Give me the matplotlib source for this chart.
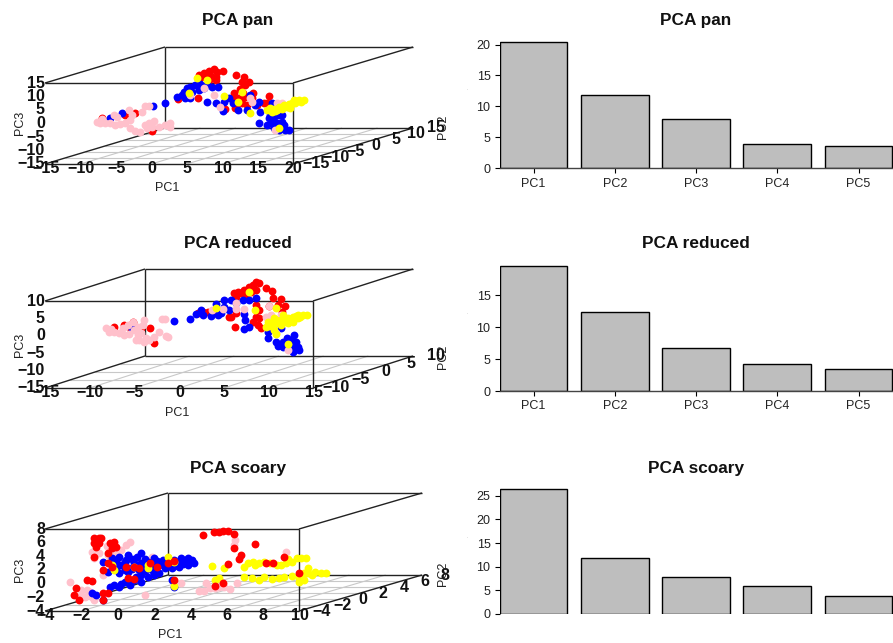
"""PCA scatter views and variance bars for three gene sets."""
import numpy as np
import matplotlib
matplotlib.use("Agg")
import matplotlib.pyplot as plt

plt.rcParams["font.family"] = ["Liberation Sans", "DejaVu Sans"]

W, H = 893, 643

PCS = ["PC1", "PC2", "PC3", "PC4", "PC5"]
VAR_PAN = [20.35, 11.8, 7.95, 3.88, 3.55]
VAR_REDUCED = [19.6, 12.4, 6.7, 4.25, 3.4]
VAR_SCOARY = [26.5, 11.9, 7.9, 5.85, 3.8]

# PC1 / PC3, all taken at the middle of the PC2 range
PAN_RED = [(-15.4, -4.6), (-12.2, -3.5), (-10.8, -2.8), (-8.4, -9.4), (-1.7, 11.3), (-1.0, 12.0), (-0.3, 12.8),
           (0.4, 13.5), (0.8, 12.4), (1.6, 12.8), (-0.2, 11.3), (-0.9, 10.6), (0.6, 10.6), (-1.6, 10.2), (-0.3, 9.4),
           (0.6, 9.4), (3.5, 11.3), (4.6, 10.6), (5.3, 8.7), (4.3, 8.7), (4.8, 7.6), (4.1, 6.1), (3.2, 4.6),
           (4.5, 4.6), (5.9, 4.6), (4.8, 3.1), (3.9, 2.8), (3.6, 0.9), (4.3, 0.9), (5.0, 0.2), (2.9, 2.8),
           (3.3, -0.9), (1.9, -1.3), (8.2, 3.5), (7.4, 0.9), (6.4, 0.2), (7.8, 0.9), (-4.7, 2.4), (-1.9, 2.8),
           (5.7, 2.8)]
PAN_BLUE = [(-12.6, -2.8), (-14.3, -4.6), (-8.2, -0.2), (-6.6, 0.9), (-1.6, 8.0), (-2.3, 7.6), (-3.0, 6.9),
            (-3.4, 6.5), (-3.8, 5.0), (-4.1, 3.9), (-4.8, 3.1), (-3.7, 2.8), (-3.0, 2.8), (-2.7, 5.0), (-1.7, 5.7),
            (-1.0, 6.5), (-0.6, 8.0), (0.1, 6.9), (1.0, 6.9), (-0.6, 1.3), (0.7, 0.9), (1.8, 1.3), (2.5, 2.8),
            (1.7, -2.0), (3.0, 0.9), (3.7, -1.7), (5.1, -1.7), (6.1, 0.2), (6.8, 1.3), (5.5, 3.9), (8.5, 0.9),
            (6.9, -2.4), (6.8, -6.5), (8.2, -4.6), (8.9, -4.3), (9.6, -3.5), (10.0, -6.1), (7.9, -7.2), (8.6, -6.5),
            (9.3, -6.5), (10.0, -8.3), (10.4, -9.1), (11.0, -9.1), (10.3, -7.2), (9.6, -9.1), (8.9, -8.3),
            (8.9, -2.4), (9.6, -1.3), (8.3, -3.5), (10.0, -3.5)]
PAN_PINK = [(-16.1, -6.1), (-15.7, -6.5), (-15.0, -6.5), (-14.3, -6.5), (-13.6, -7.2), (-12.9, -6.9), (-12.2, -6.5),
            (-11.5, -5.4), (-11.2, -3.5), (-11.6, -1.7), (-13.7, -3.5), (-13.3, -4.3), (-9.8, -2.4), (-9.3, -0.2),
            (-8.8, -0.2), (-11.5, -8.3), (-10.8, -9.4), (-10.1, -9.8), (-9.3, -7.2), (-8.8, -6.5), (-8.1, -5.7),
            (-9.1, -8.3), (-8.4, -8.0), (-7.4, -8.0), (-6.5, -7.2), (-5.8, -6.5), (-5.8, -8.0), (-15.4, -5.0),
            (-1.0, 6.5), (-3.0, 3.9), (0.4, 3.9), (5.4, 2.8), (5.8, 1.3), (9.3, 0.9), (10.0, 0.9), (1.3, -0.6),
            (9.0, -9.1)]
PAN_YELLOW = [(-0.6, 9.4), (-2.0, 10.2), (-3.1, 4.6), (1.8, 3.5), (4.4, 5.0), (5.5, -2.8), (3.7, 1.3), (9.6, -8.3),
              (7.9, -1.7), (8.6, -2.4), (9.3, -1.7), (10.0, -1.3), (10.7, -0.6), (11.4, 0.9), (12.1, 1.7),
              (13.1, 2.0), (12.6, 1.3), (11.1, -0.9), (10.3, 0.2), (11.7, 2.0), (8.3, -0.9), (9.6, -0.6),
              (8.9, -1.2), (9.8, -0.9), (10.5, -0.2), (11.0, 0.5), (11.8, 1.0), (12.4, 1.9), (9.0, -2.0)]

RED_RED = [(-8.8, -2.4), (-10.8, -0.6), (-12.9, -2.1), (-8.4, -6.7), (-9.9, -2.4), (-11.0, -2.9), (-11.8, -1.5),
           (3.0, 10.9), (2.7, 10.0), (2.2, 9.4), (1.7, 8.6), (1.0, 8.0), (0.6, 7.7), (3.4, 10.6), (3.0, 8.6),
           (2.5, 8.0), (1.3, 7.7), (1.9, 7.1), (0.8, 6.6), (4.1, 9.1), (4.8, 8.3), (4.9, 6.3), (5.8, 6.0), (5.5, 4.3),
           (6.3, 4.0), (4.5, 4.0), (0.7, -2.1), (0.0, 0.8), (0.8, 2.0), (3.0, 0.8), (3.4, 0.5), (2.7, -0.6),
           (3.2, -1.5), (3.6, -2.4), (-3.5, 2.0), (-2.9, 2.2), (-2.4, 2.2), (-1.7, 2.2), (0.2, 0.8), (5.9, 2.2),
           (3.0, 4.3), (3.4, 2.8)]
RED_BLUE = [(-6.2, -0.3), (-10.9, -2.6), (-4.4, 0.2), (-3.7, 1.7), (-3.1, 2.8), (-2.9, 1.4), (-2.0, 1.1), (-1.2, 1.4),
            (-0.9, 2.0), (-1.5, 4.5), (-0.6, 5.7), (0.2, 5.7), (0.8, 4.8), (1.6, 5.7), (2.2, 5.7), (3.0, 6.3),
            (-0.6, 3.7), (0.0, 2.8), (1.7, 1.7), (1.8, -0.1), (2.2, -2.1), (1.7, -2.6), (4.4, -5.2), (5.3, -6.4),
            (5.5, -7.5), (6.0, -6.4), (6.5, -5.2), (7.3, -4.4), (6.9, -5.8), (7.5, -6.4), (7.7, -7.8), (7.8, -8.7),
            (7.2, -9.3), (6.6, -7.8), (7.3, -7.8), (6.0, -7.8), (4.4, -3.5), (5.8, -2.4)]
RED_PINK = [(-13.8, -2.4), (-13.4, -3.5), (-12.9, -3.5), (-12.3, -3.8), (-11.8, -4.4), (-11.2, -4.1), (-10.6, -2.9),
            (-10.2, -2.1), (-9.6, -1.5), (-9.5, -0.1), (-11.9, -2.4), (-11.3, -1.5), (-10.8, -0.6), (-10.1, -5.8),
            (-10.4, -5.8), (-9.5, -6.4), (-9.0, -5.8), (-8.4, -4.9), (-7.8, -3.5), (-6.8, -4.9), (-7.1, -4.7),
            (-7.5, 0.2), (-7.2, 0.2), (-13.2, -2.6), (-10.2, -4.4), (-9.3, -5.2), (-9.9, -3.8), (-0.7, 3.1),
            (0.8, 4.8), (0.8, 3.1), (1.7, 3.1), (4.5, 4.0), (4.1, 0.8), (4.7, 1.4), (5.8, 1.4), (5.3, -3.8),
            (6.6, -8.7), (-1.9, 2.8)]
RED_YELLOW = [(-1.5, 3.4), (2.9, 2.8), (5.3, 3.4), (2.2, 8.0), (5.3, -4.1), (6.6, -7.0), (5.0, -2.9), (4.1, -2.1),
              (4.7, -1.5), (5.3, -0.9), (5.8, -0.1), (6.6, 0.5), (7.2, 0.8), (7.7, 1.4), (8.3, 1.4), (8.7, 1.4),
              (6.6, -0.9), (4.4, -0.6), (5.0, 0.5), (6.0, 1.4), (7.2, -0.6), (5.8, -1.5), (7.7, 0.5), (4.5, -1.8),
              (5.0, -1.2), (5.5, -0.4), (6.1, 0.0), (6.4, 0.3), (6.9, 0.2), (7.4, 0.4), (8.0, 0.9), (5.3, -0.2),
              (6.2, -0.6), (6.8, -0.2), (7.5, 1.0), (4.9, -0.8)]

SCO_RED = [(-4.7, 4.1), (-4.4, 4.1), (-4.3, 4.1), (-4.7, 3.3), (-4.4, 3.3), (-4.6, 2.7), (-3.8, 3.3), (-3.6, 3.5),
           (-3.5, 2.7), (-3.7, 2.6), (-3.9, 1.9), (-4.7, 1.3), (-4.2, -0.6), (-2.9, -0.2), (-2.5, -0.2), (-2.8, -1.8),
           (-2.5, -1.9), (-1.2, -0.2), (-0.6, 0.4), (-0.3, 0.7), (-5.1, -2.1), (-4.8, -2.2), (-5.7, -3.3),
           (-5.5, -5.0), (-5.8, -4.3), (-4.2, -4.0), (-3.9, -4.0), (-4.2, -5.0), (-0.3, -2.1), (-3.7, -0.2),
           (-3.9, 0.4), (-1.6, 0.4), (-2.2, -0.3), (1.3, 4.5), (1.9, 4.9), (2.2, 4.9), (2.4, 5.1), (2.7, 5.1),
           (3.0, 4.6), (3.0, 2.6), (4.2, 3.2), (2.7, 0.2), (3.4, 1.6), (3.3, 1.0), (4.8, 0.4), (5.2, 0.4), (5.8, 1.3),
           (6.6, -1.1), (2.0, -3.0), (2.4, -2.5)]
SCO_BLUE = [(-2.8, 1.6), (-2.1, 1.9), (-1.4, 1.1), (-0.6, 1.1), (0.1, 1.1), (0.7, 0.8), (0.8, 0.4), (0.5, 0.1),
            (0.0, -0.2), (-0.4, -0.3), (-0.8, -0.3), (-1.1, -1.1), (-1.7, -1.7), (-2.1, -2.4), (-2.7, -2.8),
            (-3.3, -3.1), (-3.8, -3.1), (-3.6, -2.8), (-3.0, -2.4), (-2.5, -2.1), (-2.1, -1.4), (-2.8, -0.9),
            (-3.3, -1.1), (-3.9, -0.9), (-4.2, 0.5), (-3.7, 1.1), (-3.3, 1.3), (-2.5, 0.4), (-2.1, 0.4), (-1.7, 0.5),
            (-1.1, 0.1), (-3.2, 0.1), (-3.7, 0.1), (-2.8, -0.3), (-2.2, -0.6), (-1.5, -0.6), (-1.0, 0.4), (-0.3, 0.8),
            (0.3, 0.5), (0.0, 0.5), (-4.8, -4.0), (-4.2, -5.0), (-0.4, -2.1), (-0.3, -3.1), (-4.6, -4.3), (-2.9, 0.8),
            (-1.8, -0.2), (-0.7, 0.5), (0.5, 1.1), (-3.5, 0.6), (-3.0, 0.5), (-2.6, 1.0), (-2.3, 1.2), (-1.9, 1.0),
            (-1.5, 0.6), (-1.2, 0.7), (-0.9, 0.8), (-0.5, 0.2), (-0.2, 0.2), (0.2, 0.3), (-3.5, -0.5), (-3.0, -0.6),
            (-2.6, -0.5), (-1.9, -0.8), (-1.3, -0.5), (-2.4, -1.6), (-2.8, -2.2), (-3.2, -2.7), (-1.4, -1.3),
            (-2.5, 0.0), (-2.0, -0.1), (-1.4, 0.1), (-0.3, 0.0), (0.3, 0.9)]
SCO_PINK = [(-4.8, 2.0), (-4.0, 2.9), (-2.7, 3.5), (-2.9, 3.0), (-3.2, 2.3), (-3.5, 1.9), (-3.9, 1.6), (-4.4, 1.9),
            (-4.7, 1.1), (-4.2, -1.4), (-3.3, 0.4), (-2.3, 0.8), (-1.5, 1.3), (-6.0, -2.4), (-5.4, -3.6), (-5.1, -3.6),
            (-5.2, -4.6), (-4.8, -4.6), (-4.7, -5.0), (-5.4, -4.3), (-4.9, -3.9), (-1.9, -4.3), (0.1, -2.5),
            (-3.2, -0.3), (3.1, 3.8), (3.0, 3.0), (5.9, 2.0), (1.5, -2.5), (1.1, -3.7), (1.4, -3.7), (1.7, -3.3),
            (2.0, -3.3), (2.2, -3.1), (2.5, -3.1), (2.8, -3.4), (3.2, -2.5), (2.3, -2.4)]
SCO_YELLOW = [(-0.6, 1.3), (-0.3, -3.0), (-3.6, -0.6), (-3.7, 0.1), (-2.5, -0.2), (-1.7, 0.1), (-1.7, -0.3),
              (-0.3, 0.5), (1.8, 0.0), (2.5, -0.3), (2.2, -1.8), (2.0, -2.1), (3.6, -0.2), (3.8, 0.4), (4.1, 0.5),
              (4.4, 0.4), (4.7, 0.5), (5.0, 0.4), (5.4, 0.1), (5.6, 0.1), (5.9, 0.4), (6.2, 0.5), (6.5, 1.1), (6.7, 1.1),
              (7.0, 1.1), (6.0, 1.0), (4.2, 0.1), (3.6, -1.7), (4.0, -1.8), (4.4, -2.1), (4.7, -1.7), (5.1, -1.9),
              (5.5, -1.8), (5.8, -1.7), (6.2, -1.5), (6.6, -1.8), (6.9, -2.1), (7.1, -1.1), (7.1, -0.3), (7.5, -0.9),
              (7.8, -1.1), (8.1, -1.1), (6.9, -1.1), (7.3, -1.4), (6.6, -2.4)]

PANELS = [
    dict(title="PCA pan", x_ticks=[-15, -10, -5, 0, 5, 10, 15, 20], y_ticks=[-15, -10, -5, 0, 5, 10, 15],
         z_ticks=[-15, -10, -5, 0, 5, 10, 15], box=(45, 293, 83, 164, 120, 36), title_y=21,
         pc1_xy=(167, 188), pc3_xy=(20, 123), pc2_xy=(443, 127),
         layers=[("red", PAN_RED), ("blue", PAN_BLUE), ("pink", PAN_PINK), ("yellow", PAN_YELLOW)]),
    dict(title="PCA reduced", x_ticks=[-15, -10, -5, 0, 5, 10, 15], y_ticks=[-10, -5, 0, 5, 10],
         z_ticks=[-15, -10, -5, 0, 5, 10], box=(45, 313, 301, 388, 100, 32), title_y=244,
         pc1_xy=(177, 413), pc3_xy=(20, 345), pc2_xy=(443, 357),
         layers=[("red", RED_RED), ("blue", RED_BLUE), ("pink", RED_PINK), ("yellow", RED_YELLOW)]),
    dict(title="PCA scoary", x_ticks=[-4, -2, 0, 2, 4, 6, 8, 10], y_ticks=[-4, -2, 0, 2, 4, 6, 8],
         z_ticks=[-4, -2, 0, 2, 4, 6, 8], box=(45, 299, 529, 611, 123, 36), title_y=468,
         pc1_xy=(170, 635), pc3_xy=(20, 570), pc2_xy=(443, 574),
         layers=[("pink", SCO_PINK), ("blue", SCO_BLUE), ("yellow", SCO_YELLOW), ("red", SCO_RED)]),
]

BARS = [
    dict(title="PCA pan", values=VAR_PAN, ticks=[0, 5, 10, 15, 20], zero=168.3, per_unit=6.19, top=40, title_y=21,
         dot_y=89, labels=True),
    dict(title="PCA reduced", values=VAR_REDUCED, ticks=[0, 5, 10, 15], zero=391, per_unit=6.4, top=263, title_y=244,
         dot_y=313, labels=True),
    dict(title="PCA scoary", values=VAR_SCOARY, ticks=[0, 5, 10, 15, 20, 25], zero=614, per_unit=4.73, top=487,
         title_y=468, dot_y=537, labels=False),
]


def tick_text(v):
    return str(v).replace("-", "\u2212")


def fig_text(fig, x, y, s, **kw):
    fig.text(x / W, 1 - y / H, s, ha="center", va="center", **kw)


def draw_cloud(fig, p):
    x0, x1, ytop, ybot, dx, dy = p["box"]
    xt, yt, zt = p["x_ticks"], p["y_ticks"], p["z_ticks"]
    x_px = (x1 - x0) / (xt[-1] - xt[0])
    z_px = (ybot - ytop) / (zt[-1] - zt[0])
    # oblique view: PC2 shifts a point right and up
    kx = dx / x_px / (yt[-1] - yt[0])
    kz = dy / z_px / (yt[-1] - yt[0])

    def proj(pc1, pc2, pc3):
        d = np.asarray(pc2, dtype=float) - yt[0]
        return np.asarray(pc1, dtype=float) + d * kx, np.asarray(pc3, dtype=float) + d * kz

    ax = fig.add_axes([x0 / W, 1 - ybot / H, (x1 + dx - x0) / W, (ybot - ytop + dy) / H])
    ax.patch.set_alpha(0)
    ax.axis("off")
    ax.set_xlim(xt[0], xt[-1] + (yt[-1] - yt[0]) * kx)
    ax.set_ylim(zt[0], zt[-1] + (yt[-1] - yt[0]) * kz)

    def seg(a, b, **kw):
        xs, zs = proj([a[0], b[0]], [a[1], b[1]], [a[2], b[2]])
        ax.plot(xs, zs, clip_on=False, solid_capstyle="butt", **kw)

    # floor grid
    grid = dict(color="#c8c8c8", lw=0.8, zorder=1)
    for v in xt[1:-1]:
        seg((v, yt[0], zt[0]), (v, yt[-1], zt[0]), **grid)
    for v in yt[1:-1]:
        seg((xt[0], v, zt[0]), (xt[-1], v, zt[0]), **grid)

    edge = dict(color="#222222", lw=1.0, zorder=2)
    xa, xb, ya, yb, za, zb = xt[0], xt[-1], yt[0], yt[-1], zt[0], zt[-1]
    seg((xa, ya, za), (xb, ya, za), **edge)
    seg((xa, ya, zb), (xb, ya, zb), **edge)
    seg((xb, ya, za), (xb, ya, zb), **edge)
    seg((xa, yb, za), (xa, yb, zb), **edge)
    seg((xa, yb, za), (xb, yb, za), **edge)
    seg((xa, yb, zb), (xb, yb, zb), **edge)
    seg((xa, ya, za), (xa, yb, za), **edge)
    seg((xb, ya, za), (xb, yb, za), **edge)
    seg((xa, ya, zb), (xa, yb, zb), **edge)
    seg((xb, ya, zb), (xb, yb, zb), **edge)

    mid = (yt[0] + yt[-1]) / 2
    for z, (color, pts) in enumerate(p["layers"]):
        pts = np.array(pts)
        sx, sz = proj(pts[:, 0], np.full(len(pts), mid), pts[:, 1])
        ax.scatter(sx, sz, s=32, color=color, linewidths=0, zorder=3 + z, clip_on=False)

    bold = dict(fontsize=11.5, fontweight="bold", color="#111111", textcoords="offset points", zorder=10)
    for v in xt:
        ax.annotate(tick_text(v), proj(v, yt[0], zt[0]), xytext=(0.5, -3), ha="center", va="center", **bold)
    for v in zt:
        ax.annotate(tick_text(v), proj(xt[0], yt[0], v), xytext=(0, 0), ha="right", va="center", **bold)
    for v in yt:
        ax.annotate(tick_text(v), proj(xt[-1], v, zt[0]), xytext=(16.5, 0), ha="center", va="center", **bold)

    fig_text(fig, 238, p["title_y"], p["title"], fontsize=12.4, fontweight="bold", color="#111111")
    fig_text(fig, *p["pc1_xy"], "PC1", fontsize=9, color="#222222")
    fig_text(fig, *p["pc3_xy"], "PC3", fontsize=9, rotation=90, color="#222222")
    fig_text(fig, *p["pc2_xy"], "PC2", fontsize=9, rotation=90, color="#222222")


def draw_bars(fig, b):
    left, unit = 499.7, 67.7
    ax = fig.add_axes([left / W, 1 - b["zero"] / H, (W - left) / W, (b["zero"] - b["top"]) / H])
    ax.patch.set_alpha(0)
    x = np.arange(5) * 1.2
    ax.bar(x, b["values"], width=1.0, color="#bebebe", edgecolor="black", linewidth=1.0)
    ax.set_xlim(-0.5, -0.5 + (W - left) / unit)
    ax.set_ylim(0, (b["zero"] - b["top"]) / b["per_unit"])
    for s in ("top", "right", "left"):
        ax.spines[s].set_visible(False)
    ax.spines["bottom"].set_linewidth(1.0)
    ax.spines["bottom"].set_color("#444444")
    ax.set_yticks(b["ticks"])
    ax.tick_params(axis="y", length=3.6, width=0.8, pad=3, labelsize=9, labelcolor="#222222")
    if b["labels"]:
        ax.set_xticks(x)
        ax.set_xticklabels(PCS)
        ax.tick_params(axis="x", length=3.6, width=0.8, pad=3.2, labelsize=9, labelcolor="#222222")
    else:
        ax.spines["bottom"].set_visible(False)
        ax.set_xticks([])
    fig_text(fig, 696, b["title_y"], b["title"], fontsize=12.4, fontweight="bold", color="#111111")
    fig_text(fig, 467, b["dot_y"], ".", fontsize=3, color="#555555")


fig = plt.figure(figsize=(W / 100, H / 100), dpi=100)
for p in PANELS:
    draw_cloud(fig, p)
for b in BARS:
    draw_bars(fig, b)
fig.savefig("out.png", dpi=100)
